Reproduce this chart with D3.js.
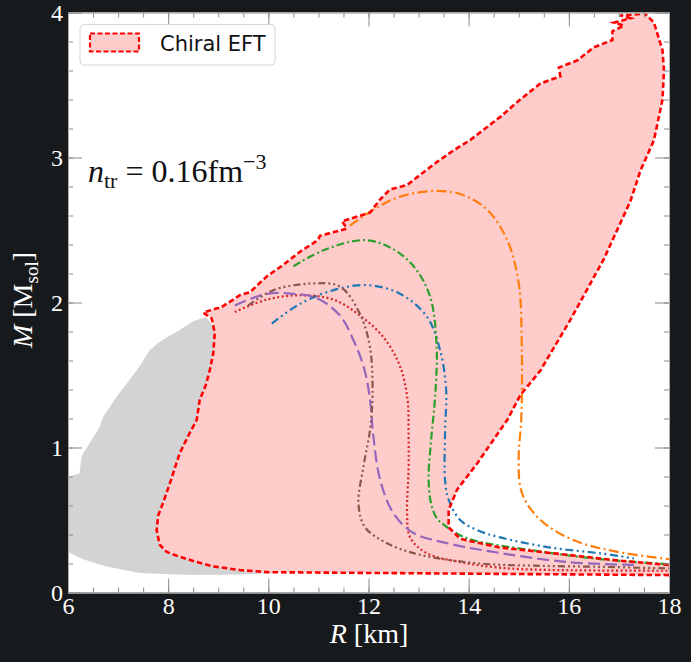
<!DOCTYPE html>
<html>
<head>
<meta charset="utf-8">
<script src="https://cdn.jsdelivr.net/npm/d3@7"></script>
<style>
  html, body { margin: 0; padding: 0; background: #171a1c; }
  svg { display: block; }
  .tick text { fill: #fff; font-family: "Liberation Serif", serif; font-size: 24px; }
  .tick line { stroke: #8a8a8a; }
  .domain { stroke: #b0b0b0; }
</style>
</head>
<body>
<svg id="chart"></svg>
<script>
// axis ranges [km], [M_sol]
var xDomain = [6, 18];
var yDomain = [0, 4];
var xMajor = [6, 8, 10, 12, 14, 16, 18];
var yMajor = [0, 1, 2, 3, 4];

// excluded region (grey), [R, M]
var grayRegion = [
  [8.75, 1.90], [8.5, 1.87], [8.23, 1.81], [7.83, 1.73], [7.63, 1.67], [7.43, 1.56],
  [7.17, 1.44], [6.97, 1.35], [6.7, 1.21], [6.63, 1.14], [6.43, 1.03], [6.27, 0.94],
  [6.23, 0.82], [6.03, 0.80], [6.0, 0.80], [6.0, 0.28], [6.3, 0.23], [6.77, 0.18],
  [7.43, 0.135], [8.43, 0.12], [9.5, 0.125], [10.2, 0.135], [9.5, 1.0], [9.0, 1.8]
];

// chiral EFT band outline, [R, M]
var eftBand = [
  [18, 0.12], [16, 0.125], [14, 0.13], [12, 0.135], [10, 0.14], [9.43, 0.155], [8.9, 0.18],
  [8.57, 0.21], [8.2, 0.25], [7.97, 0.28], [7.83, 0.33], [7.77, 0.43], [7.8, 0.53],
  [7.9, 0.62], [8.05, 0.77], [8.23, 0.96], [8.4, 1.08], [8.57, 1.19], [8.63, 1.33],
  [8.75, 1.43], [8.83, 1.53], [8.9, 1.65], [8.93, 1.79], [8.87, 1.89], [8.7, 1.93],
  [8.97, 1.96], [9.03, 1.96], [9.43, 2.05], [9.63, 2.07], [9.97, 2.18], [10.3, 2.26],
  [10.63, 2.35], [10.99, 2.43], [11.03, 2.46], [11.57, 2.51], [11.47, 2.56], [12.03, 2.62],
  [12.23, 2.71], [12.43, 2.78], [12.77, 2.81], [13.03, 2.88], [13.37, 2.97], [13.7, 3.05],
  [14.03, 3.12], [14.63, 3.28], [15.03, 3.40], [15.43, 3.51], [15.83, 3.56], [15.8, 3.62],
  [16.17, 3.67], [16.5, 3.76], [16.87, 3.81], [16.87, 3.87], [17.1, 3.91], [16.9, 3.93],
  [17.23, 3.96], [17.03, 3.98], [17.43, 3.99], [17.5, 4.0], [17.7, 3.93], [17.87, 3.74],
  [17.9, 3.60], [17.87, 3.40], [17.7, 3.12], [17.43, 2.91], [17.23, 2.70], [16.7, 2.30],
  [16.03, 1.88], [15.43, 1.53], [15.03, 1.36], [14.77, 1.19], [14.17, 0.89], [13.77, 0.71],
  [13.6, 0.57], [13.6, 0.45], [13.83, 0.37], [14.63, 0.31], [15.97, 0.26], [17.0, 0.22],
  [18, 0.19]
];

// individual EOS mass-radius curves, [R, M]
var eosBlue = [
  [10.07, 1.855], [10.63, 1.99], [11.3, 2.085], [11.97, 2.12], [12.63, 2.06], [13.17, 1.90],
  [13.43, 1.67], [13.55, 1.40], [13.53, 1.12], [13.53, 0.77], [13.6, 0.64], [13.83, 0.50],
  [14.17, 0.43], [14.63, 0.38], [15.63, 0.31], [16.63, 0.27], [17.3, 0.235]
];
var eosOrange = [
  [11.63, 2.53], [12.1, 2.64], [12.63, 2.73], [13.37, 2.77], [13.9, 2.74], [14.37, 2.64],
  [14.77, 2.43], [15.0, 2.13], [15.06, 1.7], [15.05, 1.19], [15.0, 0.96], [15.03, 0.73],
  [15.17, 0.61], [15.5, 0.48], [16.1, 0.36], [16.97, 0.28], [18, 0.23]
];
var eosGreen = [
  [10.5, 2.25], [11.1, 2.36], [11.9, 2.43], [12.43, 2.38], [12.9, 2.25], [13.23, 2.04],
  [13.36, 1.7], [13.33, 1.35], [13.25, 1.05], [13.2, 0.80], [13.24, 0.63], [13.35, 0.52],
  [13.57, 0.45], [14.0, 0.37], [15.3, 0.29], [16.63, 0.23], [18, 0.196]
];
var eosRed = [
  [9.33, 1.935], [9.97, 2.02], [10.63, 2.05], [11.3, 2.02], [11.83, 1.91], [12.3, 1.76],
  [12.63, 1.56], [12.78, 1.33], [12.8, 1.10], [12.8, 0.85], [12.77, 0.55], [12.83, 0.38],
  [13.17, 0.27], [13.83, 0.21], [14.5, 0.175], [15.3, 0.158], [18, 0.15]
];
var eosPurple = [
  [9.33, 1.98], [9.97, 2.06], [10.5, 2.06], [10.97, 2.03], [11.43, 1.91], [11.7, 1.74],
  [11.9, 1.56], [12.02, 1.36], [12.1, 1.07], [12.23, 0.78], [12.5, 0.545], [12.9, 0.41],
  [13.57, 0.34], [14.4, 0.285], [15.97, 0.21], [17.3, 0.19]
];
var eosBrown = [
  [9.6, 1.98], [10.1, 2.085], [10.83, 2.13], [11.43, 2.11], [11.83, 1.92], [12.03, 1.69],
  [12.08, 1.36], [12.03, 1.12], [11.9, 0.87], [11.8, 0.61], [11.93, 0.45], [12.37, 0.34],
  [13.03, 0.26], [14.23, 0.20], [15.3, 0.185], [16.63, 0.177], [18, 0.166]
];

var W = 691, H = 662;
var margin = {left: 68, top: 12.5, right: 22, bottom: 69.5};
var width = W - margin.left - margin.right;
var height = H - margin.top - margin.bottom;

var svg = d3.select("#chart").attr("width", W).attr("height", H);

var x = d3.scaleLinear().domain(xDomain).range([0, width]);
var y = d3.scaleLinear().domain(yDomain).range([height, 0]);

var g = svg.append("g").attr("transform", "translate(" + margin.left + "," + margin.top + ")");

g.append("rect").attr("width", width).attr("height", height).attr("fill", "#fff");

svg.append("defs").append("clipPath").attr("id", "clip")
  .append("rect").attr("width", width).attr("height", height);

var plot = g.append("g").attr("clip-path", "url(#clip)");

var line = d3.line().x(function(d){ return x(d[0]); }).y(function(d){ return y(d[1]); });
var smooth = d3.line().curve(d3.curveCatmullRom.alpha(0.5))
  .x(function(d){ return x(d[0]); }).y(function(d){ return y(d[1]); });

plot.append("path").attr("d", line(grayRegion) + "Z").attr("fill", "#d3d3d3");

plot.append("path").attr("d", line(eftBand) + "Z").attr("fill", "#ffcccc");

var curves = [
  {data: eosBlue,   color: "#1f77b4", dash: "8,3.5,2,3.5,2,3.5"},
  {data: eosOrange, color: "#ff7f0e", dash: "10,3.5,2,3.5"},
  {data: eosGreen,  color: "#2ca02c", dash: "8,3,2,3"},
  {data: eosRed,    color: "#d62728", dash: "2,2.5"},
  {data: eosPurple, color: "#9467bd", dash: "12,5"},
  {data: eosBrown,  color: "#8c564b", dash: "7,3,2,3,2,3,2,3"}
];

curves.forEach(function(c){
  plot.append("path")
    .attr("d", smooth(c.data))
    .attr("fill", "none")
    .attr("stroke", c.color)
    .attr("stroke-width", 2.2)
    .attr("stroke-dasharray", c.dash);
});

// band outline on top
plot.append("path")
  .attr("d", line(eftBand))
  .attr("fill", "none")
  .attr("stroke", "#ff0000")
  .attr("stroke-width", 2.6)
  .attr("stroke-dasharray", "5.5,3");

// axes, ticks pointing inward on all sides
var minorX = d3.range(6, 18.01, 0.5);
var minorY = d3.range(0, 4.01, 0.2);

g.append("g").attr("transform", "translate(0," + height + ")")
  .call(d3.axisBottom(x).tickValues(minorX).tickSize(-5).tickFormat(""));
g.append("g").attr("transform", "translate(0," + height + ")")
  .call(d3.axisBottom(x).tickValues(xMajor).tickSize(-14).tickPadding(4).tickFormat(d3.format("d")));
g.append("g").call(d3.axisTop(x).tickValues(minorX).tickSize(-5).tickFormat(""));
g.append("g").call(d3.axisTop(x).tickValues(xMajor).tickSize(-14).tickFormat(""));

g.append("g").call(d3.axisLeft(y).tickValues(minorY).tickSize(-5).tickFormat(""));
g.append("g").call(d3.axisLeft(y).tickValues(yMajor).tickSize(-14).tickPadding(5).tickFormat(d3.format("d")));
g.append("g").attr("transform", "translate(" + width + ",0)")
  .call(d3.axisRight(y).tickValues(minorY).tickSize(-5).tickFormat(""));
g.append("g").attr("transform", "translate(" + width + ",0)")
  .call(d3.axisRight(y).tickValues(yMajor).tickSize(-14).tickFormat(""));

g.selectAll(".domain").attr("stroke", "#b0b0b0");

// axis titles
var xt = svg.append("text")
  .attr("x", 369).attr("y", 643)
  .attr("text-anchor", "middle")
  .attr("fill", "#fff")
  .style("font-family", "Liberation Serif, serif")
  .style("font-size", "28px");
xt.append("tspan").attr("font-style", "italic").text("R");
xt.append("tspan").text(" [km]");

var yt = svg.append("text")
  .attr("transform", "translate(32,300) rotate(-90)")
  .attr("text-anchor", "middle")
  .attr("fill", "#fff")
  .style("font-family", "Liberation Serif, serif")
  .style("font-size", "28px");
yt.append("tspan").attr("font-style", "italic").text("M");
yt.append("tspan").text("  [M");
yt.append("tspan").attr("dy", 6).style("font-size", "19px").text("sol");
yt.append("tspan").attr("dy", -6).text("]");

// annotation
var ann = svg.append("text")
  .attr("x", 88).attr("y", 182)
  .attr("fill", "#111")
  .style("font-family", "Liberation Serif, serif")
  .style("font-size", "32px");
ann.append("tspan").attr("font-style", "italic").text("n");
ann.append("tspan").attr("dy", 6).style("font-size", "22px").text("tr");
ann.append("tspan").attr("dy", -6).text(" = 0.16fm");
ann.append("tspan").attr("dy", -13).style("font-size", "22px").text("−3");

// legend
var leg = svg.append("g");
leg.append("rect")
  .attr("x", 80).attr("y", 24.5).attr("width", 195).attr("height", 40.5)
  .attr("rx", 4).attr("fill", "#fff").attr("stroke", "#d6d6d6");
leg.append("rect")
  .attr("x", 90).attr("y", 33.5).attr("width", 49).attr("height", 18)
  .attr("fill", "#ffcccc").attr("stroke", "#ff0000")
  .attr("stroke-width", 2.2).attr("stroke-dasharray", "5,2.5");
leg.append("text")
  .attr("x", 160).attr("y", 51)
  .attr("fill", "#111")
  .style("font-family", "DejaVu Sans, sans-serif")
  .style("font-size", "21px")
  .text("Chiral EFT");
</script>
</body>
</html>
